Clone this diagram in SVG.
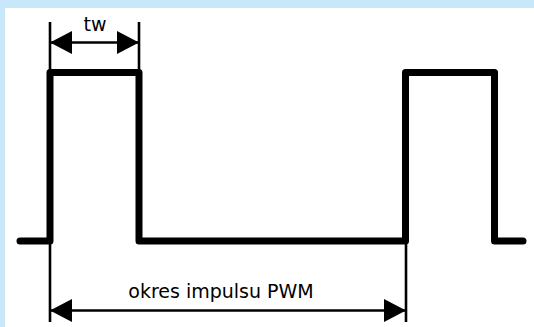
<svg xmlns="http://www.w3.org/2000/svg" width="534" height="327" viewBox="0 0 534 327">
  <style>
    .wave { fill: none; stroke: #000; stroke-width: 7; stroke-linecap: round; stroke-linejoin: round; }
    .ext { fill: none; stroke: #000; stroke-width: 2.6; }
    .dim { fill: none; stroke: #000; stroke-width: 2.6; marker-start: url(#arr); marker-end: url(#arr); }
    .lbl { font-family: "DejaVu Sans", Verdana, sans-serif; font-size: 19px; fill: #000; text-anchor: middle; }
  </style>
  <defs>
    <marker id="arr" markerUnits="userSpaceOnUse" markerWidth="22" markerHeight="23" refX="22" refY="11.5" orient="auto-start-reverse" viewBox="0 0 22 23">
      <path d="M0,0 L22,11.5 L0,23 Z" fill="#000"/>
    </marker>
  </defs>
  <rect x="0" y="0" width="534" height="327" fill="#c8e8fa"/>
  <rect x="5" y="8" width="529" height="319" fill="#ffffff"/>
  <g id="waveform">
    <path class="wave" d="M20,241 H50 V72.5 H139 V241 H405.5 V72.5 H494.5 V241 H523"/>
  </g>
  <g id="connectors">
    <line class="ext" x1="50" y1="22" x2="50" y2="322"/>
    <line class="ext" x1="139" y1="22" x2="139" y2="74"/>
    <line class="ext" x1="406" y1="240" x2="406" y2="322"/>
    <line class="dim" x1="50" y1="42.5" x2="139" y2="42.5"/>
    <line class="dim" x1="50" y1="310.5" x2="406" y2="310.5"/>
  </g>
  <g id="label-tw">
    <text class="lbl" x="95" y="30.5">tw</text>
  </g>
  <g id="label-period">
    <text class="lbl" x="221" y="297.5">okres impulsu PWM</text>
  </g>
</svg>
